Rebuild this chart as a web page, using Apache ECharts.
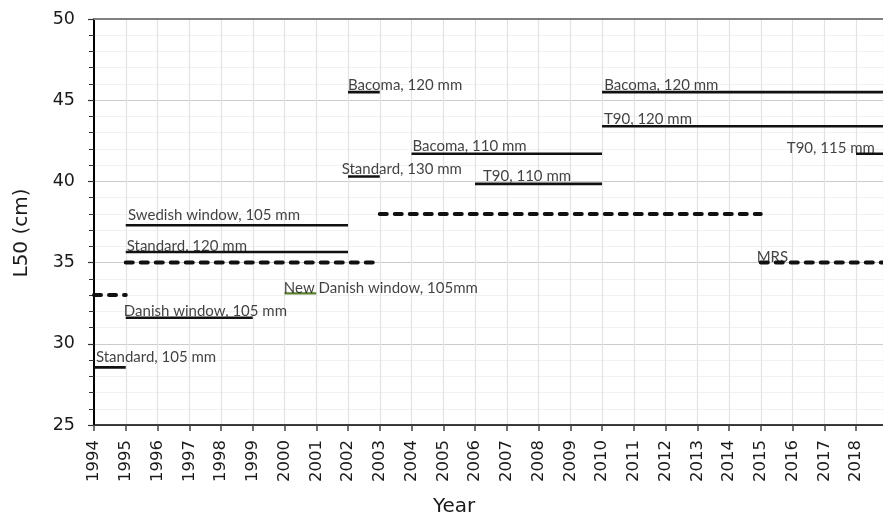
<!DOCTYPE html>
<html>
<head>
<meta charset="utf-8">
<script src="https://cdn.jsdelivr.net/npm/echarts@6/dist/echarts.min.js"></script>
<style>
html,body{margin:0;padding:0;background:#fff;}
#c{width:883px;height:521px;}
</style>
</head>
<body>
<div id="c"></div>
<script>
// ---- data ----
var END = 2018.85;
// solid segments: [startYear, endYear, L50]
var solidNames = ["Standard, 105 mm","Danish window, 105 mm","Standard, 120 mm","Swedish window, 105 mm",
  "Bacoma, 120 mm (2002)","Standard, 130 mm","Bacoma, 110 mm","T90, 110 mm",
  "Bacoma, 120 mm (2010)","T90, 120 mm","T90, 115 mm"];
var solidStart = [1994, 1995, 1995, 1995, 2002, 2002, 2004, 2006, 2010, 2010, 2018];
var solidEnd   = [1995, 1999, 2002, 2002, 2003, 2003, 2010, 2010, END, END, END];
var solidValue = [28.55, 31.6, 35.65, 37.3, 45.5, 40.3, 41.7, 39.85, 45.5, 43.4, 41.7];

// green segment (New Danish window)
var greenStart = 2000, greenEnd = 2001, greenValue = 33.1;

// dashed (MRS) segments
var dashStart = [1994, 1995, 2003, 2015];
var dashEnd   = [1995, 2003, 2015, END];
var dashValue = [33.0, 35.0, 38.0, 35.0];

// annotation texts and their anchor (year, L50)
var labelTexts = ["Standard, 105 mm","Danish window, 105 mm","Standard, 120 mm","Swedish window, 105 mm",
  "New Danish window, 105mm","Bacoma, 120 mm","Standard, 130 mm","Bacoma, 110 mm","T90, 110 mm",
  "Bacoma, 120 mm","T90, 120 mm","T90, 115 mm","MRS"];
var labelX = [1994.06, 1994.94, 1995.03, 1995.07, 1999.98, 2002.0, 2001.8, 2004.03, 2006.25, 2010.07, 2010.06, 2015.82, 2014.87];
var labelY = [29.2, 32.03, 36.02, 37.9, 33.44, 45.9, 40.78, 42.17, 40.33, 45.95, 43.84, 42.07, 35.34];

var yearTicks = [];
for (var yr = 1994; yr <= 2018; yr++) yearTicks.push(yr);

// ---- build ----
var series = [];
for (var i = 0; i < solidStart.length; i++) {
  series.push({
    type: 'line', name: solidNames[i], symbol: 'none', silent: true,
    data: [[solidStart[i], solidValue[i]], [solidEnd[i], solidValue[i]]],
    lineStyle: { color: '#111', width: 2.6, cap: 'butt' }
  });
}
series.push({
  type: 'line', name: 'New Danish window', symbol: 'none', silent: true,
  data: [[greenStart, greenValue], [greenEnd, greenValue]],
  lineStyle: { color: '#5b7f2e', width: 2.2 }
});
for (var j = 0; j < dashStart.length; j++) {
  series.push({
    type: 'line', name: 'MRS' + j, symbol: 'none', silent: true,
    data: [[dashStart[j], dashValue[j]], [dashEnd[j], dashValue[j]]],
    lineStyle: { color: '#111', width: 4, type: [7, 8], cap: 'round' }
  });
}
var labelData = labelTexts.map(function (t, k) { return { value: [labelX[k], labelY[k]], name: t }; });
series.push({
  type: 'scatter', symbolSize: 0, silent: true, data: labelData, z: 5,
  label: {
    show: true, position: [0, 0], align: 'left', verticalAlign: 'middle',
    formatter: function (p) { return p.name; },
    fontFamily: 'Lato', fontSize: 15, color: '#111'
  }
});

var chart = echarts.init(document.getElementById('c'), null, { renderer: 'canvas' });
chart.setOption({
  animation: false,
  backgroundColor: '#fff',
  grid: { left: 94, right: 0, top: 19, bottom: 96, containLabel: false },
  xAxis: [{
    type: 'value', min: 1994, max: END, interval: 1,
    axisLine: { show: true, lineStyle: { color: '#000', width: 1.5 } },
    axisTick: { show: true, inside: false, length: 6, lineStyle: { color: '#444', width: 1.5 } },
    axisLabel: {
      rotate: 90, margin: 15, fontFamily: 'DejaVu Sans', fontSize: 16.5, color: '#1a1a1a',
      showMaxLabel: false,
      formatter: function (v) { return yearTicks.indexOf(v) >= 0 ? String(v) : ''; }
    },
    splitLine: { show: true, lineStyle: { color: '#e3e3e3', width: 1.2 } }
  }, {
    type: 'value', position: 'top', min: 1994, max: END,
    axisLine: { show: true, onZero: false, lineStyle: { color: '#808080', width: 2 } },
    axisTick: { show: false }, axisLabel: { show: false }, splitLine: { show: false }
  }],
  yAxis: {
    type: 'value', min: 25, max: 50, interval: 5,
    axisLine: { show: true, lineStyle: { color: '#000', width: 2 } },
    axisTick: { show: true, length: 6, lineStyle: { color: '#333', width: 1.2 } },
    minorTick: { show: true, splitNumber: 5, length: 5, lineStyle: { color: '#333', width: 1 } },
    axisLabel: { margin: 19, fontFamily: 'DejaVu Sans', fontSize: 17.5, color: '#1a1a1a' },
    splitLine: { show: true, lineStyle: { color: '#cccccc', width: 1.2 } },
    minorSplitLine: { show: true, lineStyle: { color: '#f1f1f1', width: 1 } }
  },
  graphic: [
    { type: 'text', left: 433, top: 497, style: { text: 'Year', font: '20px "DejaVu Sans"', fill: '#1a1a1a' } },
    { type: 'text', x: 22, y: 233, rotation: Math.PI / 2,
      style: { text: 'L50 (cm)', font: '20px "DejaVu Sans"', fill: '#1a1a1a', align: 'center', verticalAlign: 'middle' } }
  ],
  series: series
});
</script>
</body>
</html>
